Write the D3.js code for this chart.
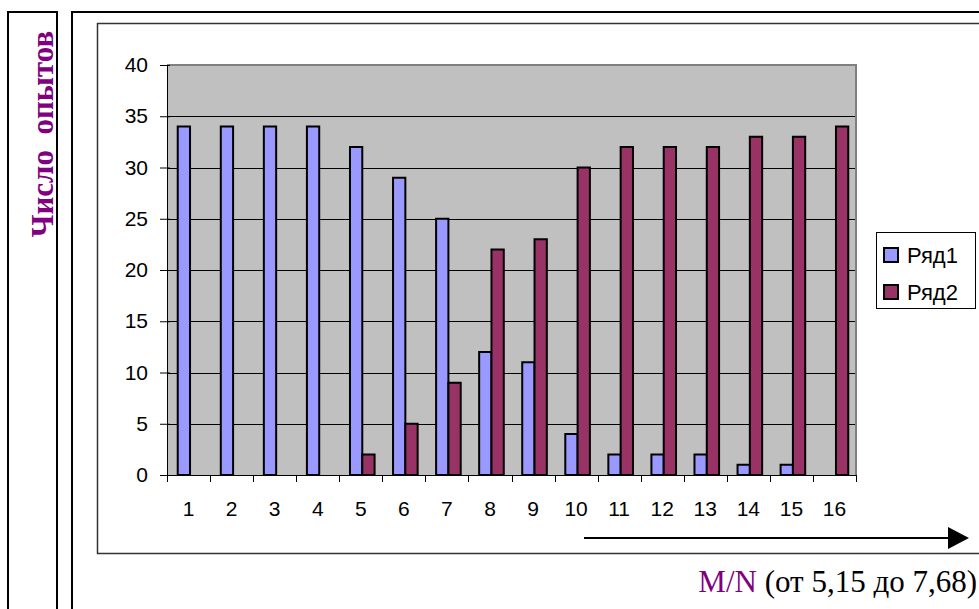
<!DOCTYPE html>
<html><head><meta charset="utf-8">
<script src="https://cdn.jsdelivr.net/npm/d3@7"></script>
<style>body{margin:0;background:#fff}svg{display:block}</style>
</head><body>
<script>
const categories = ["1","2","3","4","5","6","7","8","9","10","11","12","13","14","15","16"];
const series1 = [34,34,34,34,32,29,25,12,11,4,2,2,2,1,1,0];
const series2 = [0,0,0,0,2,5,9,22,23,30,32,32,32,33,33,34];
const seriesNames = ["Ряд1","Ряд2"];
const seriesColors = ["#9999FF","#993366"];
const yTicks = [0,5,10,15,20,25,30,35,40];

const W = 979, H = 609;
const svg = d3.select("body").append("svg").attr("width", W).attr("height", H);

// outer table lines
const tbl = svg.append("g").attr("stroke", "#000").attr("stroke-width", 2);
tbl.append("line").attr("x1", 8).attr("x2", 8).attr("y1", 11).attr("y2", H);
tbl.append("line").attr("x1", 57).attr("x2", 57).attr("y1", 11).attr("y2", H);
tbl.append("line").attr("x1", 72).attr("x2", 72).attr("y1", 11).attr("y2", H);
tbl.append("line").attr("x1", 7).attr("x2", 58).attr("y1", 12).attr("y2", 12);
tbl.append("line").attr("x1", 71).attr("x2", W).attr("y1", 12).attr("y2", 12);

// chart frame
svg.append("path").attr("d", `M${W+5},23.5 H97.5 V553.5 H${W+5}`)
  .attr("fill", "none").attr("stroke", "#333").attr("stroke-width", 1.5);

// y title
svg.append("text")
  .attr("transform", "translate(53,134) rotate(-90)")
  .attr("text-anchor", "middle")
  .attr("font-family", "Liberation Serif, Times New Roman, serif")
  .attr("font-weight", "bold").attr("font-size", 31)
  .attr("fill", "#800080")
  .attr("xml:space", "preserve")
  .style("white-space", "pre")
  .text("Число  опытов");

const plot = {l: 167, r: 856, t: 65, b: 475};
const x = d3.scaleBand().domain(categories).range([plot.l, plot.r]).padding(0);
const y = d3.scaleLinear().domain([0, 40]).range([plot.b, plot.t]);

svg.append("rect").attr("x", plot.l).attr("y", plot.t)
  .attr("width", plot.r - plot.l).attr("height", plot.b - plot.t)
  .attr("fill", "#C0C0C0");

// gridlines
svg.append("g").selectAll("line").data(yTicks.filter(d => d > 0 && d < 40)).join("line")
  .attr("x1", plot.l).attr("x2", plot.r)
  .attr("y1", d => Math.round(y(d)) + 0.5).attr("y2", d => Math.round(y(d)) + 0.5)
  .attr("stroke", "#000").attr("stroke-width", 1);

// plot border (top/right gray)
svg.append("path").attr("d", `M${plot.l},${plot.t} H${plot.r} V${plot.b}`)
  .attr("fill", "none").attr("stroke", "#808080").attr("stroke-width", 2);

// bars
const bw = x.bandwidth() / 3.5;
const data = categories.map((c, i) => ({c, v: [series1[i], series2[i]]}));
[0, 1].forEach(s => {
  svg.append("g").selectAll("rect").data(data.filter(d => d.v[s] > 0)).join("rect")
    .attr("x", d => x(d.c) + bw * 0.75 + 1.5 + s * bw)
    .attr("y", d => y(d.v[s]))
    .attr("width", bw)
    .attr("height", d => y(0) - y(d.v[s]))
    .attr("fill", seriesColors[s])
    .attr("stroke", "#000").attr("stroke-width", 2);
});

// y axis
const yAxis = d3.axisLeft(y).tickValues(yTicks).tickSize(7).tickSizeOuter(0).tickPadding(12);
const gy = svg.append("g").attr("transform", `translate(${plot.l},0)`).call(yAxis);
gy.selectAll(".tick line").attr("x2", -7).attr("x1", 3);
gy.select(".domain").attr("stroke", "#000");
gy.selectAll("text").attr("font-family", "Liberation Sans, Arial, sans-serif").attr("font-size", 21).attr("fill", "#000");

// x axis
const xAxis = d3.axisBottom(x).tickSize(0).tickPadding(26);
const gx = svg.append("g").attr("transform", `translate(0,${plot.b})`).call(xAxis);
gx.select(".domain").attr("stroke", "#000");
gx.selectAll("text").attr("font-family", "Liberation Sans, Arial, sans-serif").attr("font-size", 21).attr("fill", "#000");
svg.append("g").selectAll("line").data(categories.concat(["end"])).join("line")
  .attr("x1", (d, i) => Math.round(plot.l + i * x.bandwidth()) + 0.5)
  .attr("x2", (d, i) => Math.round(plot.l + i * x.bandwidth()) + 0.5)
  .attr("y1", plot.b).attr("y2", plot.b + 7)
  .attr("stroke", "#000");

// legend
const lg = svg.append("g");
lg.append("rect").attr("x", 876.5).attr("y", 232.5).attr("width", 99).attr("height", 76)
  .attr("fill", "#fff").attr("stroke", "#000");
seriesNames.forEach((n, i) => {
  const cy = 255 + i * 37;
  lg.append("rect").attr("x", 884).attr("y", cy - 7).attr("width", 14).attr("height", 14)
    .attr("fill", seriesColors[i]).attr("stroke", "#000").attr("stroke-width", 2);
  lg.append("text").attr("x", 907).attr("y", cy + 8)
    .attr("font-family", "Liberation Sans, Arial, sans-serif").attr("font-size", 22)
    .text(n);
});

// arrow
svg.append("line").attr("x1", 584).attr("x2", 952).attr("y1", 538).attr("y2", 538)
  .attr("stroke", "#000").attr("stroke-width", 2);
svg.append("path").attr("d", "M948,527 L969,538 L948,549 Z").attr("fill", "#000");

// bottom label
const bt = svg.append("text").attr("x", 977).attr("y", 592).attr("text-anchor", "end")
  .attr("font-family", "Liberation Serif, Times New Roman, serif").attr("font-size", 31);
bt.append("tspan").attr("fill", "#800080").text("M/N");
bt.append("tspan").attr("fill", "#000").text(" (от 5,15 до 7,68)");
</script>
</body></html>
